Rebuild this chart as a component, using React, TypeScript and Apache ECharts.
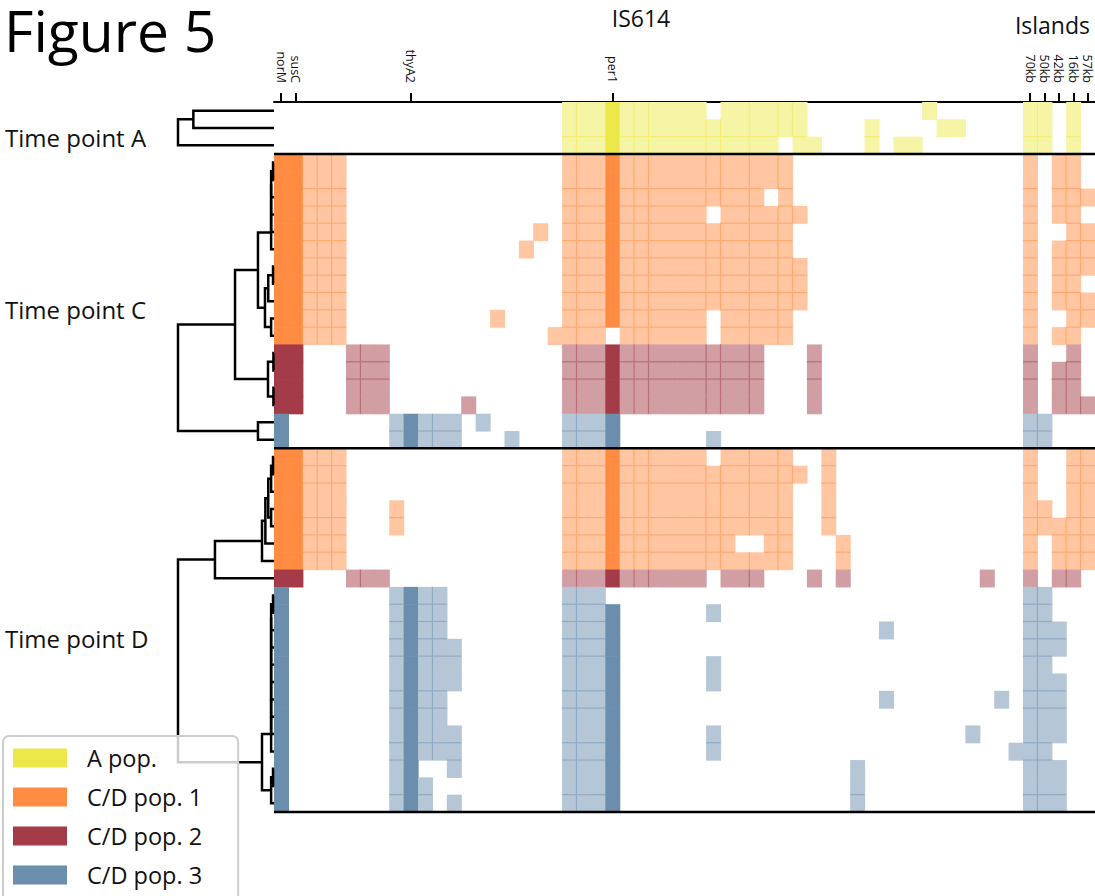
import React, { useEffect, useRef } from 'react';
import * as echarts from 'echarts';

const N_COLS = 57;
const N_ROWS = 41;
const GENE_TICKS: [number, string][] = [
  [0, 'norM'], [1, 'susC'], [9, 'thyA2'], [23, 'per1'],
  [52, '70kb'], [53, '50kb'], [54, '42kb'], [55, '16kb'], [56, '57kb'],
];
const POPS = ['A pop.', 'C/D pop. 1', 'C/D pop. 2', 'C/D pop. 3'];
const POP_COLORS = ['#EDE84A', '#FF8C42', '#A33C48', '#6B8EAD'];
const POP_MARKER_COLS = [[23], [0, 1, 23], [0, 1, 23], [0, 9, 23]];
const ROW_POP = [
  0, 0, 0,
  1, 1, 1, 1, 1, 1, 1, 1, 1, 1, 1,
  2, 2, 2, 2,
  3, 3,
  1, 1, 1, 1, 1, 1, 1,
  2,
  3, 3, 3, 3, 3, 3, 3, 3, 3, 3, 3, 3, 3,
];
const ROW_CELLS = [
  '20-29,31-36,45,52-53,55',
  '20-36,41,46-47,52-53,55',
  '20-34,36-37,41,43-44,52-53,55',
  '0-4,20-35,52,54-55',
  '0-4,20-35,52,54-55',
  '0-4,20-33,35,52,54-56',
  '0-4,20-29,31-36,52,54-55',
  '0-4,18,20-35,52,55-56',
  '0-4,17,20-35,52,54-56',
  '0-4,20-36,52,54-56',
  '0-4,20-36,52,54-55',
  '0-4,20-36,52,54-56',
  '0-4,15,20-29,31-35,52,55-56',
  '0-4,19-22,24-29,31-35,52,54-55',
  '0-1,5-7,20-33,37,52,55',
  '0-1,5-7,20-33,37,52,54-55',
  '0-1,5-7,20-33,37,52,54-55',
  '0-1,5-7,13,20-33,37,52,54-56',
  '0,8-12,14,20-23,52-53',
  '0,8-12,16,20-23,30,52-53',
  '0-4,20-29,31-35,38,52,55-56',
  '0-4,20-36,38,52,55-56',
  '0-4,20-35,38,52,55-56',
  '0-4,8,20-35,38,52-53,55-56',
  '0-4,8,20-35,38,52-56',
  '0-4,20-31,34-35,39,52,54-56',
  '0-4,20-35,39,52,54-56',
  '0-1,5-7,20-29,31-33,37,39,49,52,54-55',
  '0,8-11,20-22,52-53',
  '0,8-11,20-23,30,52-53',
  '0,8-11,20-23,42,52-54',
  '0,8-12,20-23,52-54',
  '0,8-12,20-23,30,52-53',
  '0,8-12,20-23,30,52-54',
  '0,8-11,20-23,42,50,52-54',
  '0,8-11,20-23,52-54',
  '0,8-12,20-23,30,48,52-54',
  '0,8-12,20-23,30,51-53',
  '0,8-9,12,20-23,40,52-54',
  '0,8-10,20-23,40,52-54',
  '0,8-10,12,20-23,40,52-54',
];
// column / row boundaries where the light cells show a darker seam
const SEAM_COLS = [3, 4, 6, 11, 21, 25, 26, 30, 31, 33, 35, 36, 53, 55, 56];
const SEAM_ROWS = [2, 5, 6, 7, 8, 9, 10, 11, 12, 13, 15, 16, 19, 21, 22, 24, 25, 26, 29, 30, 31, 32, 34, 35, 37, 38, 40];
// rows after which a section (time point) ends
const SECTION_ENDS = [2, 19, 40];
// dendrogram merges: [childA, childB, height]; ids >= 41 refer to MERGES[id - 41]
const MERGES: [number, number, number][] = [
  // time point A (ids 41, 42)
  [0, 1, 84], [41, 2, 100],
  // time point C, pop 1 (ids 43..52)
  [3, 4, 1], [43, 5, 3], [44, 6, 3], [45, 7, 3], [46, 8, 3],
  [9, 10, 1], [48, 11, 6], [12, 13, 3], [49, 50, 9.4],
  [47, 51, 16.7],
  // time point C, pop 2 (ids 53..55)
  [14, 15, 0.6], [16, 17, 0.6], [53, 54, 6.25],
  // C pop 1 + pop 2 (id 56)
  [52, 55, 40.6],
  // time point C, pop 3 + root (ids 57, 58)
  [18, 19, 16.7], [56, 57, 100],
  // time point D, pop 1 + pop 2 (ids 59..65)
  [20, 21, 1], [59, 22, 3], [23, 24, 3], [60, 61, 6], [62, 25, 9], [63, 26, 12.5], [64, 27, 61.5],
  // time point D, pop 3 (ids 66..77)
  [28, 29, 1], [66, 30, 3], [67, 31, 3], [68, 32, 3], [69, 33, 3], [70, 34, 3], [71, 35, 3], [72, 36, 3], [73, 37, 3],
  [38, 39, 1], [75, 40, 3], [74, 76, 12.5],
  // time point D root (id 78)
  [65, 77, 100],
];

const FONT = '"Open Sans", "Noto Sans", sans-serif';

function mixWhite(hex: string, t: number): string {
  const n = parseInt(hex.slice(1), 16);
  const r = (n >> 16) & 255, g = (n >> 8) & 255, b = n & 255;
  const m = (v: number) => Math.round(v + (255 - v) * t);
  return `rgb(${m(r)},${m(g)},${m(b)})`;
}

function parseCells(s: string): number[] {
  const out: number[] = [];
  s.split(',').forEach((part) => {
    const [a, b] = part.split('-').map(Number);
    const end = b === undefined ? a : b;
    for (let c = a; c <= end; c++) out.push(c);
  });
  return out;
}

export default function App() {
  const ref = useRef<HTMLDivElement>(null);

  useEffect(() => {
    if (!ref.current) return;
    const chart = echarts.init(ref.current, undefined, { renderer: 'svg' });

    const filled: Set<number>[] = ROW_CELLS.map((s) => new Set(parseCells(s)));
    const isDark = (r: number, c: number) => POP_MARKER_COLS[ROW_POP[r]].includes(c);
    const light = POP_COLORS.map((c) => mixWhite(c, 0.5));
    const seam = POP_COLORS.map((c) => mixWhite(c, 0.25));

    const perPop: number[][][] = POPS.map(() => []);
    for (let r = 0; r < N_ROWS; r++) {
      const p = ROW_POP[r];
      filled[r].forEach((c) => {
        const dark = isDark(r, c) ? 1 : 0;
        const sl = !dark && SEAM_COLS.includes(c) && filled[r].has(c - 1) && !isDark(r, c - 1) ? 1 : 0;
        const st = !dark && SEAM_ROWS.includes(r) && r > 0 && ROW_POP[r - 1] === p && filled[r - 1].has(c) && !isDark(r - 1, c) ? 1 : 0;
        perPop[p].push([c, r, dark, sl, st]);
      });
    }

    // dendrogram geometry
    const nodeY: number[] = [];
    const nodeH: number[] = [];
    for (let i = 0; i < N_ROWS; i++) { nodeY[i] = i; nodeH[i] = 0; }
    const links: number[][] = [];
    MERGES.forEach(([a, b, h], i) => {
      const id = N_ROWS + i;
      nodeY[id] = (nodeY[a] + nodeY[b]) / 2;
      nodeH[id] = h;
      links.push([nodeY[a], nodeY[b], nodeH[a], nodeH[b], h]);
    });

    const cellSeries = POPS.map((name, p) => ({
      name,
      type: 'custom',
      xAxisIndex: 0,
      yAxisIndex: 0,
      itemStyle: { color: POP_COLORS[p] },
      encode: { x: 0, y: 1 },
      silent: true,
      data: perPop[p],
      renderItem: (params: any, api: any) => {
        const c = api.value(0), r = api.value(1);
        const dark = api.value(2), sl = api.value(3), st = api.value(4);
        const pt = api.coord([c, r]);
        const sz = api.size([1, 1]);
        const x = pt[0] - sz[0] / 2, y = pt[1] - sz[1] / 2;
        const kids: any[] = [{
          type: 'rect',
          shape: { x, y, width: sz[0] + 0.6, height: sz[1] + 0.6 },
          style: { fill: dark ? POP_COLORS[p] : light[p] },
        }];
        if (sl) kids.push({ type: 'rect', shape: { x: x - 0.6, y, width: 1.2, height: sz[1] }, style: { fill: seam[p] } });
        if (st) kids.push({ type: 'rect', shape: { x, y: y - 0.6, width: sz[0], height: 1.2 }, style: { fill: seam[p] } });
        return { type: 'group', children: kids };
      },
    }));

    const option: any = {
      animation: false,
      grid: [
        { left: 274, top: 102, width: 821, height: 710 },
        { left: 178, top: 102, width: 96, height: 710 },
      ],
      xAxis: [
        {
          type: 'category',
          gridIndex: 0,
          position: 'top',
          data: Array.from({ length: N_COLS }, (_, i) => {
            const t = GENE_TICKS.find((g) => g[0] === i);
            return t ? t[1] : '';
          }),
          axisLine: { show: true, lineStyle: { color: '#000', width: 2 } },
          axisTick: {
            show: true,
            alignWithLabel: true,
            length: 9,
            interval: (i: number, v: string) => v !== '',
            lineStyle: { color: '#000', width: 2 },
          },
          axisLabel: {
            show: true,
            rotate: 90,
            margin: 19,
            interval: (i: number, v: string) => v !== '',
            fontSize: 12.5,
            fontFamily: FONT,
            color: '#111',
          },
          splitLine: { show: false },
        },
        { type: 'value', gridIndex: 1, min: 0, max: 100, inverse: true, show: false },
      ],
      yAxis: [
        {
          type: 'category',
          gridIndex: 0,
          inverse: true,
          data: Array.from({ length: N_ROWS }, (_, i) => `r${i}`),
          show: false,
        },
        { type: 'value', gridIndex: 1, min: -0.5, max: N_ROWS - 0.5, inverse: true, show: false },
      ],
      legend: {
        data: POPS,
        orient: 'vertical',
        left: 3,
        top: 736,
        icon: 'rect',
        itemWidth: 54,
        itemHeight: 19,
        itemGap: 15,
        padding: [10, 36, 20, 10],
        backgroundColor: 'rgba(255,255,255,0.8)',
        borderColor: '#cccccc',
        borderWidth: 2,
        borderRadius: 6,
        selectedMode: false,
        textStyle: { fontSize: 23.5, fontFamily: FONT, color: '#111', padding: [0, 0, 0, 15], lineHeight: 19 },
      },
      series: [
        ...cellSeries,
        {
          type: 'custom',
          name: 'sections',
          xAxisIndex: 0,
          yAxisIndex: 0,
          encode: { x: 0, y: 1 },
          silent: true,
          z: 5,
          data: SECTION_ENDS.map((r) => [0, r]),
          renderItem: (params: any, api: any) => {
            const r = api.value(1);
            const sz = api.size([1, 1]);
            const p0 = api.coord([0, r]);
            const p1 = api.coord([N_COLS - 1, r]);
            const y = p0[1] + sz[1] / 2;
            return {
              type: 'line',
              shape: { x1: p0[0] - sz[0] / 2, y1: y, x2: p1[0] + sz[0] / 2, y2: y },
              style: { stroke: '#000', lineWidth: 2.5 },
            };
          },
        },
        {
          type: 'custom',
          name: 'dendrogram',
          xAxisIndex: 1,
          yAxisIndex: 1,
          encode: { x: 4, y: 0 },
          silent: true,
          data: links,
          renderItem: (params: any, api: any) => {
            const ya = api.value(0), yb = api.value(1), ha = api.value(2), hb = api.value(3), h = api.value(4);
            const pts = [api.coord([ha, ya]), api.coord([h, ya]), api.coord([h, yb]), api.coord([hb, yb])];
            return { type: 'polyline', shape: { points: pts }, style: { stroke: '#000', lineWidth: 2.5, fill: 'none' } };
          },
        },
      ],
      graphic: [
        { type: 'text', x: 4, y: 30, style: { text: 'Figure 5', fontSize: 57, fontFamily: FONT, fill: '#000', textAlign: 'left', textVerticalAlign: 'middle' } },
        { type: 'text', x: 641, y: 18, style: { text: 'IS614', fontSize: 23, fontFamily: FONT, fill: '#111', textAlign: 'center', textVerticalAlign: 'middle' } },
        { type: 'text', x: 1090, y: 25, style: { text: 'Islands', fontSize: 23, fontFamily: FONT, fill: '#111', textAlign: 'right', textVerticalAlign: 'middle' } },
        { type: 'text', x: 5, y: 137, style: { text: 'Time point A', fontSize: 24, fontFamily: FONT, fill: '#111', textAlign: 'left', textVerticalAlign: 'middle' } },
        { type: 'text', x: 5, y: 309, style: { text: 'Time point C', fontSize: 24, fontFamily: FONT, fill: '#111', textAlign: 'left', textVerticalAlign: 'middle' } },
        { type: 'text', x: 5, y: 638, style: { text: 'Time point D', fontSize: 24, fontFamily: FONT, fill: '#111', textAlign: 'left', textVerticalAlign: 'middle' } },
      ],
    };

    chart.setOption(option);
    return () => chart.dispose();
  }, []);

  return (
    <div
      ref={ref}
      style={{ position: 'fixed', left: 0, top: 0, width: 1095, height: 1000, background: '#fff' }}
    />
  );
}
